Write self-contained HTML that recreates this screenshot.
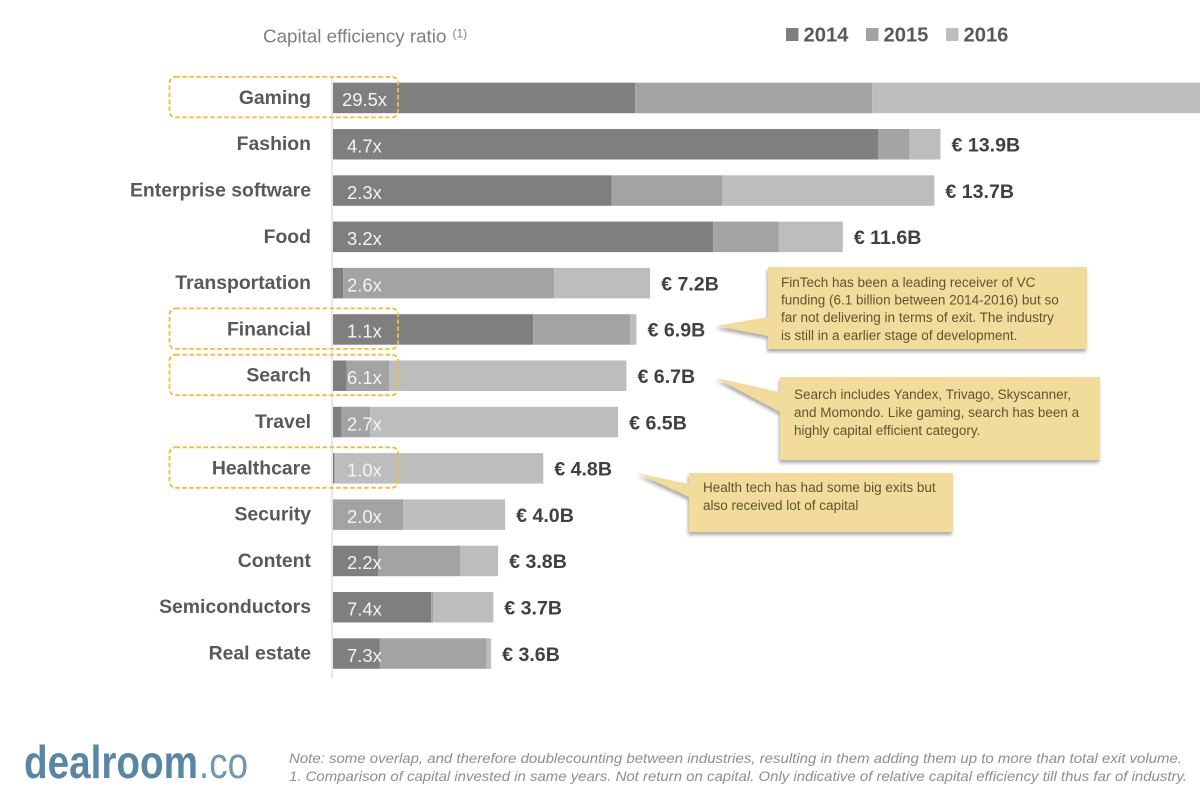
<!DOCTYPE html>
<html lang="en">
<head>
<meta charset="utf-8">
<title>Capital efficiency by industry</title>
<style>
html,body{margin:0;padding:0;background:#fff;width:1200px;height:791px;overflow:hidden}
svg{display:block;font-family:"Liberation Sans",sans-serif}
.cat{font-weight:700;font-size:19.4px;fill:#595959;text-anchor:end}
.ratio{font-size:18.4px;fill:#f4f4f4}
.total{font-weight:700;font-size:19.6px;fill:#404040}
.note{font-style:italic;font-size:14px;fill:#8e8e8e}
.co{font-size:13.5px;fill:#5f5430}
</style>
</head>
<body>
<svg id="chart" xmlns="http://www.w3.org/2000/svg" width="1200" height="791" viewBox="0 0 1200 791">
  <defs>
    <filter id="sh" x="-10%" y="-10%" width="120%" height="130%">
      <feDropShadow dx="-1" dy="3" stdDeviation="1.6" flood-color="#6b6b6b" flood-opacity="0.55"/>
    </filter>
  </defs>
  <text x="263" y="42.500" font-size="18.8" fill="#7f7f7f">Capital efficiency ratio</text>
  <text x="452.500" y="37.500" font-size="12" fill="#7f7f7f">(1)</text>
  <g id="legend"></g>
  <g id="bars"></g>
  <line x1="332" y1="77" x2="332" y2="678" stroke="#d9d9d9" stroke-width="1.2"/>
  <g id="labels"></g>
  <g id="highlights"></g>

  <g>
    <path d="M768 267H1087V349H768V336L716 326L768 317Z" fill="#f1dc9b" filter="url(#sh)"/>
    <text class="co"><tspan x="781" y="287">FinTech has been a leading receiver of VC</tspan><tspan x="781" y="304.500">funding (6.1 billion between 2014-2016) but so</tspan><tspan x="781" y="322">far not delivering in terms of exit. The industry</tspan><tspan x="781" y="340">is still in a earlier stage of development.</tspan></text>
  </g>
  <g>
    <path d="M780 377H1100V460H780V412L716 378L780 392Z" fill="#f1dc9b" filter="url(#sh)"/>
    <text class="co"><tspan x="794" y="399">Search includes Yandex, Trivago, Skyscanner,</tspan><tspan x="794" y="417">and Momondo. Like gaming, search has been a</tspan><tspan x="794" y="435">highly capital efficient category.</tspan></text>
  </g>
  <g>
    <path d="M689 473H953V532H689V497L637 473L689 484Z" fill="#f1dc9b" filter="url(#sh)"/>
    <text class="co"><tspan x="703" y="492">Health tech has had some big exits but</tspan><tspan x="703" y="510">also received lot of capital</tspan></text>
  </g>

  <g>
    <text x="24" y="778" font-size="46" font-weight="700" fill="#5a86a6" textLength="174" lengthAdjust="spacingAndGlyphs">dealroom</text>
    <text x="199" y="778" font-size="44" fill="#6f97b3" textLength="49" lengthAdjust="spacingAndGlyphs">.co</text>
  </g>
  <text class="note" x="289" y="763" textLength="893" lengthAdjust="spacingAndGlyphs">Note: some overlap, and therefore doublecounting between industries, resulting in them adding them up to more than total exit volume.</text>
  <text class="note" x="289" y="781" textLength="898" lengthAdjust="spacingAndGlyphs">1. Comparison of capital invested in same years. Not return on capital. Only indicative of relative capital efficiency till thus far of industry.</text>
</svg>
<script>
const categories = ["Gaming","Fashion","Enterprise software","Food","Transportation","Financial","Search","Travel","Healthcare","Security","Content","Semiconductors","Real estate"];
const values2014 = [6.9,12.45,6.36,8.68,0.23,4.57,0.31,0.2,0.03,0,1.03,2.24,1.07];
const values2015 = [5.41,0.71,2.53,1.5,4.82,2.21,0.97,0.65,0.02,1.6,1.87,0.05,2.44];
const values2016 = [9.5,0.71,4.84,1.46,2.19,0.15,5.42,5.66,4.75,2.33,0.87,1.37,0.1];
const ratioLabels = ["29.5x","4.7x","2.3x","3.2x","2.6x","1.1x","6.1x","2.7x","1.0x","2.0x","2.2x","7.4x","7.3x"];
const totalLabels = ["","€ 13.9B","€ 13.7B","€ 11.6B","€ 7.2B","€ 6.9B","€ 6.7B","€ 6.5B","€ 4.8B","€ 4.0B","€ 3.8B","€ 3.7B","€ 3.6B"];
const highlighted = ["Gaming","Financial","Search","Healthcare"];
const legendYears = ["2014","2015","2016"];
const seriesList = [values2014, values2015, values2016];
const seriesColors = ["#7f7f7f","#a3a3a3","#bdbdbd"];

const NS = "http://www.w3.org/2000/svg";
const xAxis = v => 333 + v * 43.8;
const yAxis = i => 82.7 + i * 46.3;
const BAR_H = 30.5;

function make(tag, attrs, parent, text) {
  const el = document.createElementNS(NS, tag);
  for (const k in attrs) el.setAttribute(k, attrs[k]);
  if (text !== undefined) el.textContent = text;
  parent.appendChild(el);
  return el;
}
function slug(s) { return s.toLowerCase().replace(/\s+/g, "-"); }

const barsG = document.getElementById("bars");
const labelsG = document.getElementById("labels");
const highG = document.getElementById("highlights");
const legendG = document.getElementById("legend");

categories.forEach((cat, i) => {
  let cum = 0;
  seriesList.forEach((series, s) => {
    const v = series[i];
    const r = make("rect", {x: xAxis(cum), y: yAxis(i), width: xAxis(cum + v) - xAxis(cum), height: BAR_H, fill: seriesColors[s]}, barsG);
    
    
    cum += v;
  });
  const c = make("text", {class: "cat", x: 311, y: yAxis(i) + 21.2}, labelsG, cat);
  
  
  const ratio = ratioLabels[i];
  const rt = make("text", {class: "ratio", x: ratio.length > 4 ? 342 : 347, y: yAxis(i) + 23.5}, labelsG, ratio);
  
  
  if (totalLabels[i]) {
    const t = make("text", {class: "total", x: xAxis(cum) + 11, y: yAxis(i) + 22.5}, labelsG, totalLabels[i]);
    
    
  }
  if (highlighted.includes(cat)) {
    const h = make("rect", {x: 169.5, y: yAxis(i) - 5.8, width: 228.5, height: 40.5, rx: 6, fill: "none", stroke: "#f0bd2d", "stroke-width": 1.8, "stroke-dasharray": "4.500 2.500"}, highG);
    
    
  }
});

legendYears.forEach((yr, s) => {
  const lx = 786 + s * 80;
  const sw = make("rect", {x: lx, y: 28, width: 12.5, height: 13, fill: seriesColors[s]}, legendG);
  
  
  const tx = make("text", {x: lx + 17.5, y: 41.5, "font-size": 20.2, "font-weight": 700, fill: "#595959"}, legendG, yr);
  
  
});
</script>
</body>
</html>
